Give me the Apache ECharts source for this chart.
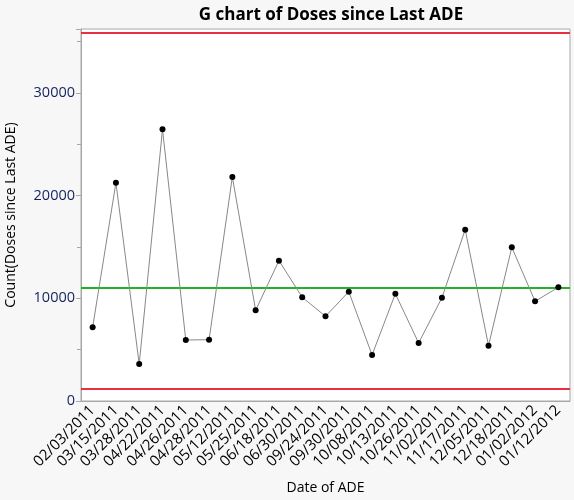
<!DOCTYPE html>
<html><head><meta charset="utf-8">
<script src="https://cdn.jsdelivr.net/npm/echarts@6/dist/echarts.min.js"></script>
<style>html,body{margin:0;padding:0;background:#f7f7f7;}#c{width:574px;height:500px;}</style>
</head><body><div id="c"></div>
<script>
const categories = ['02/03/2011','03/15/2011','03/28/2011','04/22/2011','04/26/2011','04/28/2011','05/12/2011','05/25/2011','06/18/2011','06/30/2011','09/24/2011','09/30/2011','10/08/2011','10/13/2011','10/26/2011','11/02/2011','11/17/2011','12/05/2011','12/18/2011','01/02/2012','01/12/2012'];
const doses = [7180,21260,3600,26460,5940,5970,21820,8830,13670,10100,8250,10650,4480,10450,5650,10060,16690,5390,14970,9710,11070];
const UCL = 35850;
const CL = 11040;
const LCL = 1200;
const yTicks = [0,10000,20000,30000];

const font = '"Open Sans", "Noto Sans", sans-serif';
const chart = echarts.init(document.getElementById('c'));
chart.setOption({
  backgroundColor:'#f7f7f7',
  animation:false,
  title:{text:'G chart of Doses since Last ADE', left:326, top:2, textAlign:'center',
    textStyle:{fontFamily:font, fontSize:17, fontWeight:'bold', color:'#000'}},
  grid:{left:81, right:4, top:29, bottom:99, outerBoundsMode:'none', containLabel:false,
    show:true, backgroundColor:'#fff', borderColor:'#a8a8a8', borderWidth:1},
  xAxis:{type:'category', data:categories, boundaryGap:true,
    name:'Date of ADE', nameLocation:'middle', nameGap:80,
    nameTextStyle:{fontFamily:font, fontSize:14, color:'#000'},
    axisLine:{lineStyle:{color:'#a8a8a8'}},
    axisTick:{alignWithLabel:true, length:5, lineStyle:{color:'#a8a8a8'}},
    axisLabel:{interval:0, rotate:45, fontFamily:font, fontSize:15, color:'#000', margin:7}},
  yAxis:{type:'value', min:0, max:36230, interval:10000,
    name:'Count(Doses since Last ADE)', nameLocation:'middle', nameGap:63,
    nameTextStyle:{fontFamily:font, fontSize:14, color:'#000'},
    axisLine:{show:true, lineStyle:{color:'#a8a8a8'}},
    axisTick:{show:true, length:5, lineStyle:{color:'#a8a8a8'}},
    minorTick:{show:true, splitNumber:2, length:4, lineStyle:{color:'#a8a8a8'}},
    splitLine:{show:false},
    axisLabel:{fontFamily:font, fontSize:14.5, color:'#15225e', margin:6,
      formatter:function(v){return yTicks.indexOf(v)>=0 ? String(v) : '';}}},
  series:[{
    type:'line', data:doses, symbol:'circle', symbolSize:6,
    itemStyle:{color:'#000'}, lineStyle:{color:'#888', width:1},
    z:5,
    markLine:{silent:true, symbol:['none','none'], label:{show:false},
      data:[
        {yAxis:UCL, lineStyle:{color:'#e8303f', width:2, type:'solid'}},
        {yAxis:CL, lineStyle:{color:'#22b22a', width:2, type:'solid'}},
        {yAxis:LCL, lineStyle:{color:'#e8303f', width:2, type:'solid'}}
      ]}
  }]
});
</script></body></html>
